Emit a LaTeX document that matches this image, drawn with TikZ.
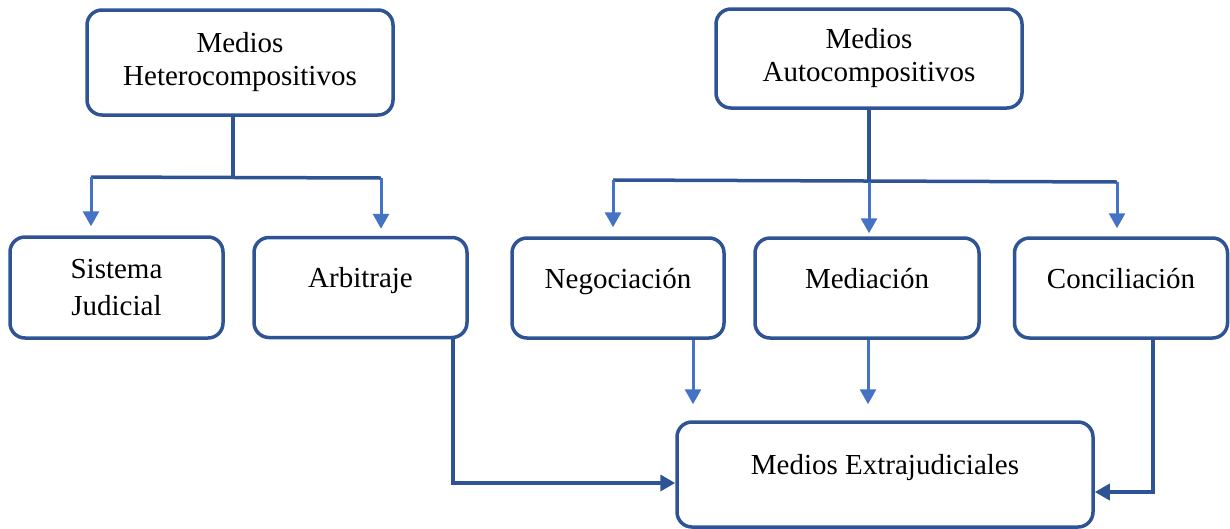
\documentclass[tikz,border=0pt]{standalone}
\usepackage{fontspec}
\setmainfont{Liberation Serif}
\usetikzlibrary{arrows.meta,calc}
\definecolor{dk}{RGB}{47,84,150}
\definecolor{lt}{RGB}{68,114,196}
\begin{document}
\begin{tikzpicture}[x=1pt,y=-1pt,
 box/.style={draw=dk,line width=3.5pt,rounded corners=15pt,align=center,
   font=\fontsize{29}{33}\selectfont,inner sep=0pt},
 onel/.style={text height=20pt,text depth=20pt},
 dline/.style={draw=dk,line width=3.5pt},
 larrow/.style={draw=lt,line width=3pt,-{Triangle[width=16pt,length=15pt]}},
 darrow/.style={draw=dk,line width=3.5pt,-{Triangle[width=16pt,length=15pt]}}]
\useasboundingbox (0,0) rectangle (1230,528);

% boxes
\node[box,minimum width=306pt,minimum height=105pt] (H) at (240,62.5) {Medios\\Heterocompositivos};
\node[box,minimum width=306pt,minimum height=99pt] (A) at (869,58.5) {Medios\\[0pt]\raisebox{0pt}{Autocompositivos}};
\node[box,minimum width=213pt,minimum height=101pt] (SJ) at (116.5,287.5) {Sistema\\[4pt]Judicial};
\node[box,onel,minimum width=213pt,minimum height=100pt] (Arb) at (360.5,287.5) {Arbitraje};
\node[box,onel,minimum width=212pt,minimum height=100pt] (Neg) at (618,288) {Negociación};
\node[box,onel,minimum width=224pt,minimum height=100pt] (Med) at (867,288) {Mediación};
\node[box,onel,minimum width=213pt,minimum height=100pt] (Con) at (1121,288) {Conciliación};
\node[box,onel,minimum width=416pt,minimum height=105pt] (Ext) at (885,474.5) {Medios Extrajudiciales};

% left tree
\coordinate (jH) at (233,177);
\coordinate (hL) at (91,177);
\coordinate (hR) at (381,178);
\draw[dline] (H.south -| jH) -- (jH);
\draw[dline] (hL) -- (hR);
\draw[larrow,shorten >=9pt] (hL) -- (hL |- SJ.north);
\draw[larrow,shorten >=7pt] (hR) -- (hR |- Arb.north);

% right tree
\coordinate (jA) at (869,182);
\coordinate (aL) at (613,180);
\coordinate (aR) at (1117,182);
\draw[dline] (A.south -| jA) -- (jA);
\draw[dline] (aL) -- (aR);
\draw[larrow,shorten >=9pt] (aL) -- (aL |- Neg.north);
\draw[larrow,shorten >=3pt] (jA) -- (jA |- Med.north);
\draw[larrow,shorten >=8pt] (aR) -- (aR |- Con.north);

% bottom
\coordinate (nB) at (693,338);
\coordinate (mB) at (868,338);
\draw[larrow,shorten >=16pt] (nB |- Neg.south) -- (nB |- Ext.north);
\draw[larrow,shorten >=16pt] (mB |- Med.south) -- (mB |- Ext.north);
\coordinate (aB) at (453,483);
\draw[darrow] (aB |- Arb.south) -- (aB) -- (Ext.west |- aB);
\coordinate (cB) at (1153,492);
\draw[darrow] (cB |- Con.south) -- (cB) -- (Ext.east |- cB);
\end{tikzpicture}
\end{document}
